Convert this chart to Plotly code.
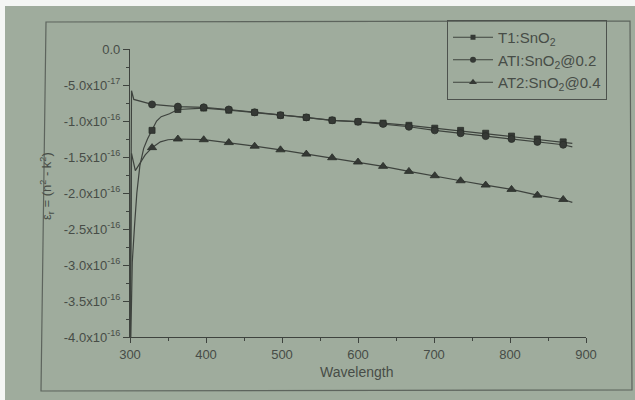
import plotly.graph_objects as go

# ---------------- data (y in units of 1e-16) ----------------
wl_T1 = [300, 303, 306, 309, 313, 318, 323, 329, 335, 341, 352, 363, 397, 430, 464, 498,
         532, 566, 600, 633, 667, 701, 735, 768, 802, 836, 870, 882]
eps_T1 = [-4.6, -2.96, -2.45, -2.0, -1.62, -1.38, -1.25, -1.13, -1.0, -0.94, -0.90, -0.84,
          -0.82, -0.85, -0.88, -0.92, -0.95, -0.99, -1.01, -1.03, -1.06, -1.10, -1.13,
          -1.17, -1.21, -1.25, -1.29, -1.31]

wl_ATI = [300, 302, 305, 329, 363, 397, 430, 464, 498, 532, 566, 600, 633, 667, 701, 735,
          768, 802, 836, 870, 882]
eps_ATI = [-4.6, -0.58, -0.70, -0.77, -0.80, -0.81, -0.84, -0.88, -0.92, -0.95, -0.99,
           -1.01, -1.04, -1.08, -1.13, -1.17, -1.21, -1.25, -1.29, -1.33, -1.36]

wl_AT2 = [300, 302, 307, 313, 320, 329, 340, 350, 363, 397, 430, 464, 498, 532, 566, 600,
          633, 667, 701, 735, 768, 802, 836, 870, 882]
eps_AT2 = [-4.6, -1.45, -1.69, -1.58, -1.47, -1.37, -1.29, -1.26, -1.25, -1.26, -1.30,
           -1.35, -1.40, -1.46, -1.51, -1.57, -1.63, -1.70, -1.76, -1.83, -1.89, -1.95,
           -2.03, -2.09, -2.13]

marker_wl = [329, 363, 397, 430, 464, 498, 532, 566, 600, 633, 667, 701, 735, 768, 802,
             836, 870]

names = ["T1:SnO<sub>2</sub>", "ATI:SnO<sub>2</sub>@0.2", "AT2:SnO<sub>2</sub>@0.4"]

y_tickvals = [0, -0.5, -1.0, -1.5, -2.0, -2.5, -3.0, -3.5, -4.0]
y_ticktext = ["0.0", "-5.0x10<sup>-17</sup>", "-1.0x10<sup>-16</sup>", "-1.5x10<sup>-16</sup>",
              "-2.0x10<sup>-16</sup>", "-2.5x10<sup>-16</sup>", "-3.0x10<sup>-16</sup>",
              "-3.5x10<sup>-16</sup>", "-4.0x10<sup>-16</sup>"]
x_tickvals = [300, 400, 500, 600, 700, 800, 900]

# ---------------- layout geometry ----------------
W, H = 635, 400
L, R, T, B = 130, 49, 49, 63
PW, PH = W - L - R, H - T - B


def fx(px):
    return (px - L) / PW


def fy(py):
    return (H - B - py) / PH


BG = "#9fac9d"
INK = "#3e433e"
TXT = "#474c47"
FONT = "Liberation Sans, Arial, sans-serif"

fig = go.Figure()

series = [
    (wl_T1, eps_T1, "square", 6),
    (wl_ATI, eps_ATI, "circle", 7),
    (wl_AT2, eps_AT2, "triangle-up", 8),
]

for (xs, ys, sym, msz), name in zip(series, names):
    fig.add_trace(go.Scatter(x=xs, y=ys, mode="lines", line=dict(color=INK, width=1.2),
                             showlegend=False, hoverinfo="skip"))
    mx = [x for x in xs if x in marker_wl]
    my = [y for x, y in zip(xs, ys) if x in marker_wl]
    fig.add_trace(go.Scatter(x=mx, y=my, mode="markers",
                             marker=dict(symbol=sym, size=msz, color="#353935",
                                         line=dict(color="#2a2e2a", width=0.8)),
                             showlegend=False, cliponaxis=False))
    fig.add_trace(go.Scatter(x=[None], y=[None], mode="lines+markers", name=name,
                             line=dict(color=INK, width=1.2),
                             marker=dict(symbol=sym, size=msz - 1, color="#353935")))

shapes = [
    # photographed page frame
    dict(type="path", xref="paper", yref="paper",
         path=f"M {fx(46)} {fy(22)} L {fx(630)} {fy(21)} L {fx(632)} {fy(390)} L {fx(41)} {fy(391)} Z",
         line=dict(color="#5d645d", width=1.2)),
    # white margins of the photo
    dict(type="rect", xref="paper", yref="paper", x0=fx(0), x1=fx(635), y0=fy(0), y1=fy(6),
         fillcolor="#f4f6f4", line=dict(width=0), layer="above"),
    dict(type="rect", xref="paper", yref="paper", x0=fx(0), x1=fx(5), y0=fy(0), y1=fy(400),
         fillcolor="#f4f6f4", line=dict(width=0), layer="above"),
]

annotations = [
    dict(text="ε<sub>r</sub> = (n<sup>2</sup> - k<sup>2</sup>)", xref="paper", yref="paper",
         x=fx(36), y=fy(186), textangle=-90, showarrow=False,
         font=dict(size=13, color=TXT, family=FONT)),
    dict(text="Wavelength", xref="paper", yref="paper", x=fx(356), y=fy(381),
         showarrow=False, font=dict(size=14, color=TXT, family=FONT), borderpad=0),
]

fig.update_layout(
    width=W, height=H,
    margin=dict(l=L, r=R, t=T, b=B),
    paper_bgcolor=BG, plot_bgcolor=BG,
    font=dict(family=FONT, color=TXT, size=12),
    shapes=shapes, annotations=annotations,
    legend=dict(x=fx(447), y=fy(20), xanchor="left", yanchor="top",
                bgcolor="rgba(0,0,0,0)", bordercolor="#4d524d", borderwidth=1,
                font=dict(size=15, color=TXT, family=FONT), tracegroupgap=0,
                itemwidth=40),
    xaxis=dict(range=[300, 900], tickmode="array", tickvals=x_tickvals,
               showgrid=False, zeroline=False, showline=True, linecolor=INK, linewidth=1.2,
               ticks="outside", ticklen=5, tickcolor=INK,
               minor=dict(ticks="outside", ticklen=3, tickcolor=INK, dtick=50, tick0=300),
               tickfont=dict(size=13, color=TXT)),
    yaxis=dict(range=[-4.0, 0.0], tickmode="array", tickvals=y_tickvals, ticktext=y_ticktext,
               showgrid=False, zeroline=False, showline=True, linecolor=INK, linewidth=1.2,
               ticks="outside", ticklen=6, tickcolor=INK,
               minor=dict(ticks="outside", ticklen=3, tickcolor=INK, dtick=0.25, tick0=0),
               tickfont=dict(size=13, color=TXT)),
)

fig.write_html("out.html")
